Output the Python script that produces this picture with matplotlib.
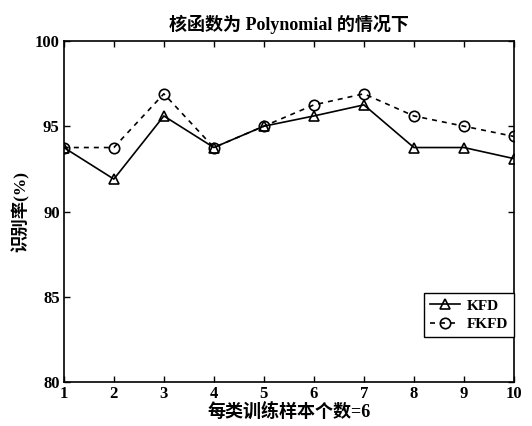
import matplotlib.pyplot as plt

# data
samples = [1, 2, 3, 4, 5, 6, 7, 8, 9, 10]
kfd = [93.75, 91.9, 95.6, 93.75, 95.0, 95.6, 96.25, 93.75, 93.75, 93.1]
fkfd = [93.75, 93.75, 96.9, 93.75, 95.0, 96.25, 96.9, 95.6, 95.0, 94.4]
y_ticks = [80, 85, 90, 95, 100]

latin = ['Liberation Serif', 'DejaVu Serif']
cjk = ['Liberation Serif', 'Noto Sans CJK SC', 'DejaVu Sans']

fig = plt.figure(figsize=(5.32, 4.26), dpi=100)
ax = fig.add_axes([0.120, 0.103, 0.846, 0.801])

ax.plot(samples, kfd, '-', color='black', lw=1.2, marker='^', ms=7.5,
        mfc='none', mec='black', mew=1.2, label='KFD')
ax.plot(samples, fkfd, '--', color='black', lw=1.2, marker='o', ms=7.5,
        mfc='none', mec='black', mew=1.2, dashes=(3, 3), label='FKFD')

ax.set_xlim(1, 10)
ax.set_ylim(80, 100)
ax.set_xticks(samples)
ax.set_yticks(y_ticks)
ax.tick_params(direction='in', top=True, right=True, length=4, width=1, pad=3)
for lbl in ax.get_xticklabels() + ax.get_yticklabels():
    lbl.set_family(latin)
    lbl.set_fontweight('bold')
    lbl.set_fontsize(12)
for s in ax.spines.values():
    s.set_linewidth(1.2)

ax.set_title('核函数为 Polynomial 的情况下', family=cjk, fontweight='bold',
             fontsize=13, pad=8)
ax.set_xlabel('每类训练样本个数=6', family=cjk, fontweight='bold', fontsize=13,
              labelpad=0)
ax.set_ylabel('识别率(%)', family=cjk, fontweight='bold', fontsize=12.5,
              labelpad=4)

leg = ax.legend(loc='lower right', bbox_to_anchor=(1.0, 0.132), borderaxespad=0,
                fancybox=False, edgecolor='black', framealpha=1,
                handlelength=2.0, handletextpad=0.4, borderpad=0.4,
                labelspacing=0.3,
                prop={'family': latin, 'weight': 'bold', 'size': 11})
leg.get_frame().set_linewidth(1.0)

fig.savefig('out.png', dpi=100)
